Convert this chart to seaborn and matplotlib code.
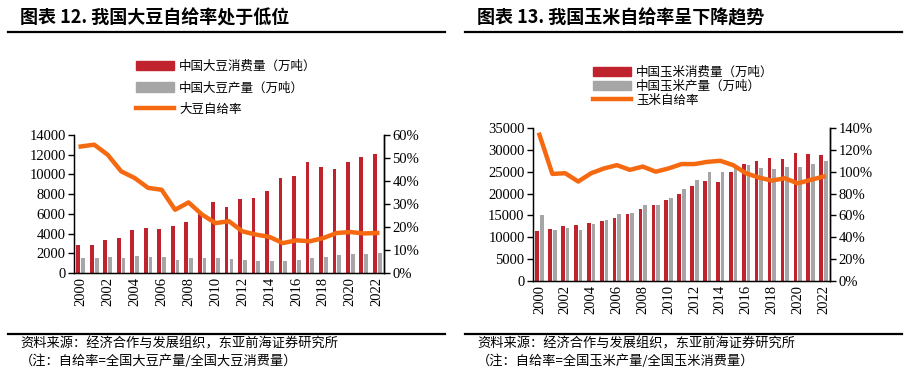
import numpy as np
import pandas as pd
import matplotlib
matplotlib.use('Agg')
import matplotlib.pyplot as plt
import seaborn as sns
from matplotlib.patches import Patch
from matplotlib.lines import Line2D
from matplotlib.ticker import PercentFormatter, MultipleLocator

years = [str(y) for y in range(2000, 2023)]

# soybean (万吨) and self-sufficiency rate (%)
soy_consumption = [2880, 2800, 3350, 3590, 4370, 4530, 4500, 4770, 5210, 6000, 7210, 6730,
                   7550, 7610, 8290, 9640, 9810, 11270, 10730, 10590, 11270, 11780, 12110]
soy_production = [1540, 1540, 1650, 1540, 1740, 1640, 1600, 1270, 1550, 1500, 1510, 1450,
                  1310, 1200, 1220, 1180, 1300, 1530, 1600, 1810, 1960, 1950, 2030]
soy_ratio = [55.0, 55.8, 51.4, 44.2, 41.3, 37.0, 36.2, 27.5, 30.7, 25.4, 21.7, 22.5,
             18.1, 16.7, 15.7, 13.0, 14.2, 13.8, 15.2, 17.4, 17.8, 17.2, 17.4]

# corn (万吨) and self-sufficiency rate (%)
corn_consumption = [11490, 11790, 12480, 12860, 13320, 13700, 14470, 15240, 16540, 17380, 18530, 19910,
                    21670, 22820, 22740, 25040, 26720, 27340, 28180, 27870, 29250, 29020, 28710]
corn_production = [15160, 11560, 12170, 11640, 13020, 14010, 15240, 15540, 17300, 17380, 19070, 21130,
                   23050, 24890, 25040, 25800, 26490, 25880, 25650, 26030, 26030, 26720, 27340]
corn_ratio = [133.8, 98.0, 98.6, 91.0, 98.6, 103.0, 106.0, 101.7, 104.7, 100.0, 103.0, 107.0,
              107.0, 109.0, 110.0, 106.0, 98.6, 94.6, 91.9, 94.0, 89.4, 92.5, 95.6]

RED = '#C0232E'
GREY = '#A6A6A6'
ORANGE = '#F56A10'
CJK = ['Noto Sans CJK SC', 'DejaVu Sans']
SERIF = 'Liberation Serif'

W, H = 923, 375
fig = plt.figure(figsize=(W / 100, H / 100), dpi=100)
fig.patch.set_facecolor('white')


def px_axes(x0, y0, x1, y1):
    return fig.add_axes([x0 / W, 1 - y1 / H, (x1 - x0) / W, (y1 - y0) / H])


def hline(x0, x1, y, lw):
    fig.add_artist(Line2D([x0 / W, x1 / W], [1 - y / H, 1 - y / H], transform=fig.transFigure,
                          color='black', lw=lw))


def panel(ax, cons, prod, ratio, cons_lab, prod_lab, ratio_lab, ymax, ystep, rmax, rstep):
    df = pd.DataFrame({'year': years * 2,
                       'value': cons + prod,
                       'series': [cons_lab] * len(years) + [prod_lab] * len(years)})
    sns.barplot(data=df, x='year', y='value', hue='series', palette=[RED, GREY],
                width=0.72, gap=0.22, ax=ax, legend=False, saturation=1)
    ax.set_ylim(0, ymax)
    ax.yaxis.set_major_locator(MultipleLocator(ystep))
    ax.set_xlim(-0.5, len(years) - 0.5)
    ax.set_xticks(range(0, len(years), 2))
    ax.set_xticklabels(years[::2], rotation=90, fontfamily=SERIF, fontsize=10.5)
    ax.set_xlabel('')
    ax.set_ylabel('')
    ax.tick_params(axis='x', length=0, pad=3)
    ax.tick_params(axis='y', direction='out', length=4, width=1, labelsize=10.5, pad=2)
    for lab in ax.get_yticklabels():
        lab.set_fontfamily(SERIF)
    ax.spines['top'].set_visible(False)
    for s in ['left', 'bottom', 'right']:
        ax.spines[s].set_linewidth(1)

    ax2 = ax.twinx()
    sns.lineplot(x=np.arange(len(years)), y=ratio, color=ORANGE, lw=3.2, ax=ax2)
    ax2.set_ylim(0, rmax)
    ax2.yaxis.set_major_locator(MultipleLocator(rstep))
    ax2.yaxis.set_major_formatter(PercentFormatter(100, decimals=0))
    ax2.tick_params(axis='y', direction='out', length=4, width=1, labelsize=10.5, pad=2)
    for lab in ax2.get_yticklabels():
        lab.set_fontfamily(SERIF)
    ax2.spines['top'].set_visible(False)
    ax2.spines['right'].set_linewidth(1)
    ax2.set_ylabel('')

    handles = [Patch(color=RED, label=cons_lab), Patch(color=GREY, label=prod_lab),
               Line2D([], [], color=ORANGE, lw=3.2, label=ratio_lab)]
    return handles


leg_kw = dict(frameon=False, prop={'family': CJK, 'size': 9}, handlelength=3.0,
              handleheight=0.8, handletextpad=0.45, borderaxespad=0)

# left panel: soybean
axL = px_axes(74, 135, 384, 273)
hL = panel(axL, soy_consumption, soy_production, soy_ratio,
           '中国大豆消费量（万吨）', '中国大豆产量（万吨）', '大豆自给率',
           14000, 2000, 60, 10)
fig.legend(handles=hL, loc='upper left', bbox_to_anchor=(131 / W, 1 - 55 / H),
           labelspacing=0.68, **leg_kw)

# right panel: corn
axR = px_axes(533, 128, 830, 281)
hR = panel(axR, corn_consumption, corn_production, corn_ratio,
           '中国玉米消费量（万吨）', '中国玉米产量（万吨）', '玉米自给率',
           35000, 5000, 140, 20)
fig.legend(handles=hR, loc='upper left', bbox_to_anchor=(588 / W, 1 - 61 / H),
           labelspacing=0.08, **leg_kw)

# titles
fig.text(20 / W, 1 - 18 / H, '图表 12. 我国大豆自给率处于低位', family=CJK, weight='bold',
         fontsize=13, va='center', ha='left')
fig.text(477 / W, 1 - 18 / H, '图表 13. 我国玉米自给率呈下降趋势', family=CJK, weight='bold',
         fontsize=13, va='center', ha='left')
hline(8, 445, 32, 1.6)
hline(465, 902, 32, 1.6)

# footers
hline(8, 445, 334, 1.6)
hline(465, 902, 334, 1.6)
foot_kw = dict(family=CJK, fontsize=9.5, va='center', ha='left')
fig.text(20 / W, 1 - 344 / H, '资料来源：经济合作与发展组织，东亚前海证券研究所', **foot_kw)
fig.text(20 / W, 1 - 361 / H, '（注：自给率=全国大豆产量/全国大豆消费量）', **foot_kw)
fig.text(477 / W, 1 - 344 / H, '资料来源：经济合作与发展组织，东亚前海证券研究所', **foot_kw)
fig.text(477 / W, 1 - 361 / H, '（注：自给率=全国玉米产量/全国玉米消费量）', **foot_kw)

fig.savefig('out.png', dpi=100, facecolor='white')
